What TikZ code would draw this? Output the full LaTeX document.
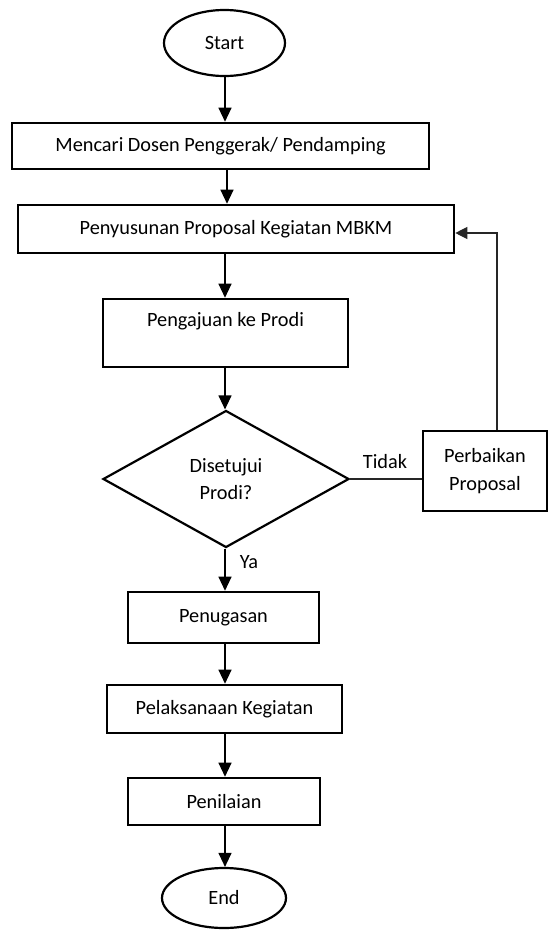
\documentclass[tikz,border=0pt]{standalone}
\usepackage{fontspec}
\setmainfont{Carlito}
\usetikzlibrary{shapes.geometric,arrows.meta}
\begin{document}
\begin{tikzpicture}[
  x={(1pt,0)}, y={(0,-1pt)},
  every node/.style={font=\fontsize{20.3}{27.5}\selectfont, inner sep=0pt},
  procbox/.style={draw, line width=2.6pt, rectangle, align=center},
  terminal/.style={draw, line width=2.2pt, ellipse},
  decision/.style={draw, line width=2.2pt, diamond, align=center},
  flow/.style={line width=1.2pt, -{Triangle[length=14pt,width=13pt]}},
  plainline/.style={line width=1.1pt, black!85},
  feedback/.style={line width=1.1pt, black!85, -{Triangle[length=12pt,width=12pt]}},
  lbl/.style={font=\fontsize{20.3}{24}\selectfont}
]
\useasboundingbox (0,0) rectangle (549,930);

% main column
\node[terminal, minimum width=121pt, minimum height=66pt] (start) at (224.5,43) {Start};
\node[procbox, minimum width=417pt, minimum height=46pt] (mencari) at (220.5,146) {Mencari Dosen Penggerak/ Pendamping};
\node[procbox, minimum width=436pt, minimum height=48pt] (susun) at (236,229) {Penyusunan Proposal Kegiatan MBKM};
\node[procbox, minimum width=245pt, minimum height=68pt] (aju) at (225.5,333) {Pengajuan ke Prodi\\\mbox{}};
\node[decision, minimum width=246pt, minimum height=137pt] (setuju) at (226,479) {Disetujui\\Prodi?};
\node[procbox, minimum width=124pt, minimum height=80pt] (perbaikan) at (485,471) {Perbaikan\\Proposal};
\node[procbox, minimum width=191pt, minimum height=51pt] (tugas) at (223.5,617.5) {Penugasan};
\node[procbox, minimum width=235pt, minimum height=48pt] (laksana) at (224.5,709) {Pelaksanaan Kegiatan};
\node[procbox, minimum width=192pt, minimum height=47pt] (nilai) at (224,801.5) {Penilaian};
\node[terminal, minimum width=124pt, minimum height=60pt] (end) at (224,898) {End};

% vertical axis of the arrows
\coordinate (ax) at (225,0);
\coordinate (bx) at (227,0);

\draw[flow] (start.south -| ax) -- (mencari.north -| ax);
\draw[flow] (mencari.south -| bx) -- (susun.north -| bx);
\draw[flow] (susun.south -| ax) -- (aju.north -| ax);
\draw[flow] (aju.south -| ax) -- (setuju.north -| ax);
\draw[flow] (setuju.south -| ax) -- (tugas.north -| ax);
\draw[flow] (tugas.south -| ax) -- (laksana.north -| ax);
\draw[flow] (laksana.south -| ax) -- (nilai.north -| ax);
\draw[flow] (nilai.south -| ax) -- (end.north -| ax);

% rejection branch and loop back
\draw[plainline] (setuju.east) -- (perbaikan.west |- setuju.east);
\coordinate (corner) at (497,233);
\draw[feedback] (perbaikan.north -| corner) -- (corner) -- (susun.east |- corner);

% branch labels
\node[lbl] (tidak) at (385,462) {Tidak};
\node[lbl] (ya) at (249,562) {Ya};
\end{tikzpicture}
\end{document}
